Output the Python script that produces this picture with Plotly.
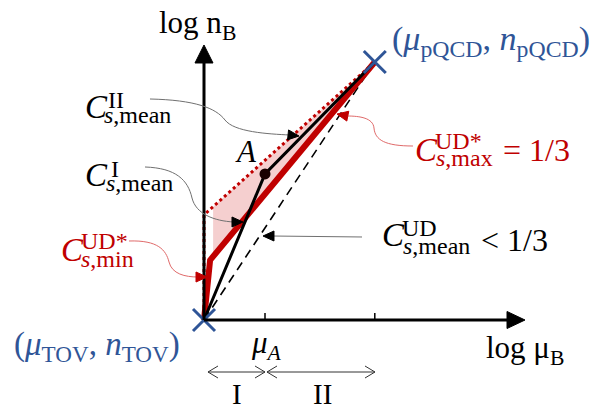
import numpy as np
import plotly.graph_objects as go

# ---------------- data (schematic values, arbitrary log units) ----------------
mu_tov, n_tov = 0.0, 0.0          # (mu_TOV, n_TOV)
mu_A, n_A = 1.0, 1.585            # point A
mu_pqcd, n_pqcd = 2.8, 2.8        # (mu_pQCD, n_pQCD)
mu_kink, n_kink = 0.1, 0.65       # end of the steep C_s,min^UD* segment
n_dot_top = 1.14                  # top of the vertical dotted segment
mu_fill_start = 0.15              # left edge of shaded band

black_x = [mu_tov, mu_A, mu_pqcd]
black_y = [n_tov, n_A, n_pqcd]
red_x = [mu_tov, mu_kink, mu_pqcd]
red_y = [n_tov, n_kink, n_pqcd]
dot_x = [mu_tov, mu_tov, mu_pqcd]
dot_y = [n_tov, n_dot_top, n_pqcd]
dash_x = [mu_tov, mu_pqcd]
dash_y = [n_tov, n_pqcd]
tick_vals = [mu_A, mu_pqcd]
x_axis_end = 5.10
y_axis_end = 2.80

# ---------------- canvas mapping ----------------
W, H = 605, 409
X0, SX = 204.0, 61.0
Y0, SY = 320.0, 92.14
xr = [(0 - X0) / SX, (W - X0) / SX]
yr = [(Y0 - H) / SY, Y0 / SY]

RED = "#C00000"
BLUE = "#2F5597"
FONT = "Liberation Serif"


def P(x, y):
    return x / W, 1 - y / H


def path_px(cmds):
    out = []
    for c in cmds:
        if isinstance(c, str):
            out.append(c)
        else:
            px, py = P(*c)
            out.append(f"{px:.5f},{py:.5f}")
    return " ".join(out)


fig = go.Figure()

# shaded band between dotted (upper) and red (lower) paths
fx = np.array([mu_fill_start, mu_pqcd])
upper = np.interp(fx, dot_x[1:], dot_y[1:])
lower = np.interp(fx, red_x[1:], red_y[1:])
fig.add_trace(go.Scatter(
    x=[fx[0], fx[0], fx[1]], y=[lower[0], upper[0], upper[1]],
    fill="toself", fillcolor="rgba(230,140,140,0.42)", mode="none",
    hoverinfo="skip", showlegend=False))

shapes = []

# axes (lines) in data coordinates
shapes.append(dict(type="line", x0=mu_tov, y0=n_tov, x1=x_axis_end, y1=n_tov,
                   line=dict(color="black", width=3), xref="x", yref="y"))
shapes.append(dict(type="line", x0=mu_tov, y0=n_tov, x1=mu_tov, y1=y_axis_end,
                   line=dict(color="black", width=3), xref="x", yref="y"))
for tv in tick_vals:
    shapes.append(dict(type="line", x0=tv, y0=n_tov, x1=tv, y1=7 / SY,
                       line=dict(color="black", width=1.5), xref="x", yref="y"))

# dashed straight line
fig.add_trace(go.Scatter(x=dash_x, y=dash_y, mode="lines",
                         line=dict(color="black", width=1.6, dash="9px,6px"),
                         hoverinfo="skip", showlegend=False))
# dotted red path
fig.add_trace(go.Scatter(x=dot_x, y=dot_y, mode="lines",
                         line=dict(color=RED, width=3, dash="dot"),
                         hoverinfo="skip", showlegend=False))
# thick red path
fig.add_trace(go.Scatter(x=red_x, y=red_y, mode="lines",
                         line=dict(color=RED, width=6),
                         hoverinfo="skip", showlegend=False))
# black path through A
fig.add_trace(go.Scatter(x=black_x, y=black_y, mode="lines",
                         line=dict(color="black", width=3),
                         hoverinfo="skip", showlegend=False))
fig.add_trace(go.Scatter(x=[mu_A], y=[n_A], mode="markers",
                         marker=dict(color="#1a0000", size=11),
                         hoverinfo="skip", showlegend=False))
# end-point crosses
fig.add_trace(go.Scatter(x=[mu_tov, mu_pqcd], y=[n_tov, n_pqcd], mode="markers",
                         marker=dict(symbol="x-thin", size=22,
                                     line=dict(color=BLUE, width=3)),
                         hoverinfo="skip", showlegend=False))


def tri(tip, frm, length=10, half=4.5, color="black"):
    tx, ty = tip
    dx, dy = tx - frm[0], ty - frm[1]
    d = (dx ** 2 + dy ** 2) ** 0.5
    ux, uy = dx / d, dy / d
    bx, by = tx - ux * length, ty - uy * length
    nx, ny = -uy, ux
    p1 = (bx + nx * half, by + ny * half)
    p2 = (bx - nx * half, by - ny * half)
    shapes.append(dict(type="path", xref="paper", yref="paper",
                       path=path_px(["M", tip, "L", p1, "L", p2, "Z"]),
                       fillcolor=color, line=dict(color=color, width=1)))


def chevron(tip, frm, length=10, half=6, color="#333"):
    tx, ty = tip
    dx, dy = tx - frm[0], ty - frm[1]
    d = (dx ** 2 + dy ** 2) ** 0.5
    ux, uy = dx / d, dy / d
    bx, by = tx - ux * length, ty - uy * length
    nx, ny = -uy, ux
    p1 = (bx + nx * half, by + ny * half)
    p2 = (bx - nx * half, by - ny * half)
    shapes.append(dict(type="path", xref="paper", yref="paper",
                       path=path_px(["M", p1, "L", tip, "L", p2]),
                       line=dict(color=color, width=1)))


def curve(cmds, color, width=1):
    shapes.append(dict(type="path", xref="paper", yref="paper",
                       path=path_px(cmds), line=dict(color=color, width=width)))


# axis arrowheads
tri((204, 45), (204, 70), length=18, half=9)
tri((525, 320), (500, 320), length=18, half=8.5)

GRAY = "#707070"
PINK = "#E06A6A"
# C^II connector
curve(["M", (150, 99), "C", (195, 100), (216, 108), (225, 120),
       "C", (234, 132), (268, 134), (290, 135)], GRAY)
tri((299, 136), (289, 135), length=11, half=5)
# C^I connector
curve(["M", (145, 167), "C", (176, 168), (188, 180), (192, 198),
       "C", (196, 214), (214, 221), (234, 222)], GRAY)
tri((243, 222), (233, 222), length=11, half=5)
# C_min connector
curve(["M", (129, 241), "C", (158, 240), (166, 250), (169, 262),
       "C", (172, 274), (185, 277), (198, 277)], PINK)
tri((207, 277), (197, 277), length=11, half=5, color=RED)
# C_max connector
curve(["M", (413, 146), "C", (385, 146), (375, 140), (374, 128),
       "C", (373, 118), (360, 116), (347, 116)], PINK)
tri((337, 114), (347, 116), length=11, half=5, color=RED)
# C_UD connector
curve(["M", (362, 237), "L", (272, 236)], GRAY)
tri((263, 236), (273, 236), length=11, half=5)

# I / II interval arrows
curve(["M", (208, 372), "L", (265, 372)], "#333")
curve(["M", (267, 372), "L", (375, 372)], "#333")
chevron((208, 372), (220, 372))
chevron((265, 372), (250, 372))
chevron((267, 372), (280, 372))
chevron((375, 372), (360, 372))

ann = []


def T(text, x, y, size=30, color="black", xanchor="center", yanchor="middle"):
    px, py = P(x, y)
    ann.append(dict(text=text, x=px, y=py, xref="paper", yref="paper",
                    showarrow=False, xanchor=xanchor, yanchor=yanchor,
                    font=dict(family=FONT, size=size, color=color)))


T("log n<sub>B</sub>", 197, 25, size=31)
T("log μ<sub>B</sub>", 525, 350, size=31)
T("(<i>μ</i><sub>pQCD</sub>, <i>n</i><sub>pQCD</sub>)", 491, 41, size=34, color=BLUE)
T("(<i>μ</i><sub>TOV</sub>, <i>n</i><sub>TOV</sub>)", 97, 346, size=33, color=BLUE)
T("<i>μ</i><sub><i>A</i></sub>", 266, 345, size=31)
T("I", 237, 394, size=29)
T("II", 322, 394, size=29)
T("<i>A</i>", 246, 152, size=31)

CS = 33
SUB = 24
# C^II_{s,mean}
T("<i>C</i>", 96, 107, size=CS)
T("II", 116, 100, size=SUB)
T("<i>s</i>,mean", 137, 115, size=SUB)
# C^I_{s,mean}
T("<i>C</i>", 97, 175, size=CS)
T("I", 115, 169, size=SUB)
T("<i>s</i>,mean", 139, 183, size=SUB)
# C^{UD*}_{s,min}
T("<i>C</i>", 72, 250, size=CS, color=RED)
T("UD*", 104, 241, size=SUB, color=RED)
T("<i>s</i>,min", 107, 259, size=SUB, color=RED)
# C^{UD*}_{s,max} = 1/3
T("<i>C</i>", 426, 150, size=CS, color=RED)
T("UD*", 458, 141, size=SUB, color=RED)
T("<i>s</i>,max", 464, 158, size=SUB, color=RED)
T("= 1/3", 536, 150, size=32, color=RED)
# C^{UD}_{s,mean} < 1/3
T("<i>C</i>", 393, 235, size=CS)
T("UD", 419, 228, size=SUB)
T("<i>s</i>,mean", 437, 246, size=SUB)
T("< 1/3", 514, 240, size=32)

fig.update_layout(
    shapes=shapes,
    annotations=ann,
    width=W, height=H, autosize=False,
    margin=dict(l=0, r=0, t=0, b=0),
    paper_bgcolor="white", plot_bgcolor="white",
    xaxis=dict(range=xr, visible=False, fixedrange=True),
    yaxis=dict(range=yr, visible=False, fixedrange=True),
    showlegend=False,
)

fig.write_html("out.html", config={"displayModeBar": False},
               post_script="document.body.style.margin='0';")
